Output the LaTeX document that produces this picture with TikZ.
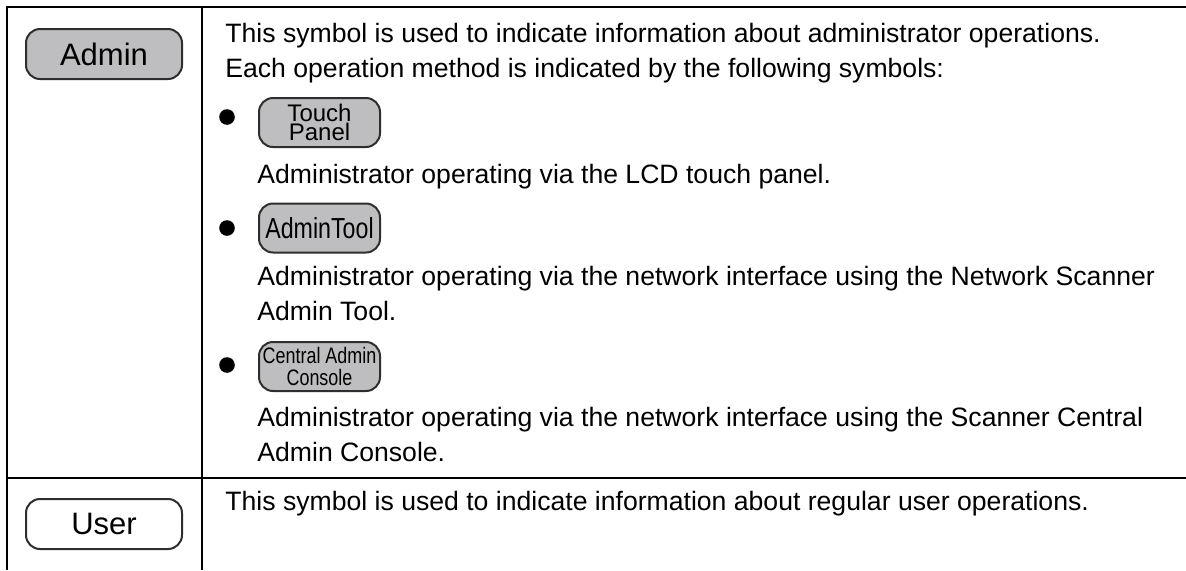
\documentclass[tikz,border=0pt]{standalone}
\usepackage{fontspec}
\setmainfont{Liberation Sans}
\newfontfamily\narrowsf[FakeStretch=0.8]{Liberation Sans}
\usetikzlibrary{positioning}
\definecolor{Ink}{HTML}{000000}
\definecolor{Edge}{HTML}{2E2E2E}
\definecolor{Badge}{HTML}{BEBEC0}
\tikzset{
  rule/.style={line width=1.25pt,draw=Ink},
  badge/.style={rounded corners=7pt,draw=Edge,line width=1pt,fill=Badge,minimum width=78pt,minimum height=25pt,inner sep=0pt,align=center,font=\fontsize{15.5}{18}\selectfont},
  userbadge/.style={badge,fill=white},
  opbadge/.style={badge,minimum width=60.5pt,minimum height=24.5pt},
  body/.style={anchor=base west,inner sep=0pt,text=Ink,font=\fontsize{13.3}{16}\selectfont},
  dot/.style={circle,fill=Ink,minimum size=7.8pt,inner sep=0pt}
}

\begin{document}
\begin{tikzpicture}[x=0.5pt,y=-0.5pt]
    \useasboundingbox (0,0) rectangle (1186,570);
    \draw[rule] (7,570) -- (7,7) -- (1186,7);
    \draw[rule] (202,7) -- (202,570);
    \draw[rule] (7,478) -- (1186,478);
    \node[badge] (admin) at (104,54) {Admin};
    \node[userbadge] (user) at (104,524) {User};
    \node[body] (intro1) at (225,42) {This symbol is used to indicate information about administrator operations.};
    \node[body] (intro2) at (225,77) {Each operation method is indicated by the following symbols:};
    \node[dot] (dot1) at (227,117) {};
    \node[opbadge,font=\fontsize{12}{9.4}\selectfont] (touch) at (319.5,122.5) {Touch\\Panel};
    \node[body] (touchtxt) at (257,183) {Administrator operating via the LCD touch panel.};
    \node[dot] (dot2) at (227,228) {};
    \node[opbadge,font=\narrowsf\fontsize{14.5}{16}\selectfont] (tool) at (319.5,228) {AdminTool};
    \node[body] (tooltxt1) at (257,285) {Administrator operating via the network interface using the Network Scanner};
    \node[body] (tooltxt2) at (257,320) {Admin Tool.};
    \node[dot] (dot3) at (227,365) {};
    \node[opbadge,font=\narrowsf\fontsize{11.2}{10.6}\selectfont] (console) at (319.5,366.5) {Central Admin\\Console};
    \node[body] (consoletxt1) at (257,426) {Administrator operating via the network interface using the Scanner Central};
    \node[body] (consoletxt2) at (257,461) {Admin Console.};
    \node[body] (usertxt) at (225,510) {This symbol is used to indicate information about regular user operations.};
  \end{tikzpicture}
\end{document}
